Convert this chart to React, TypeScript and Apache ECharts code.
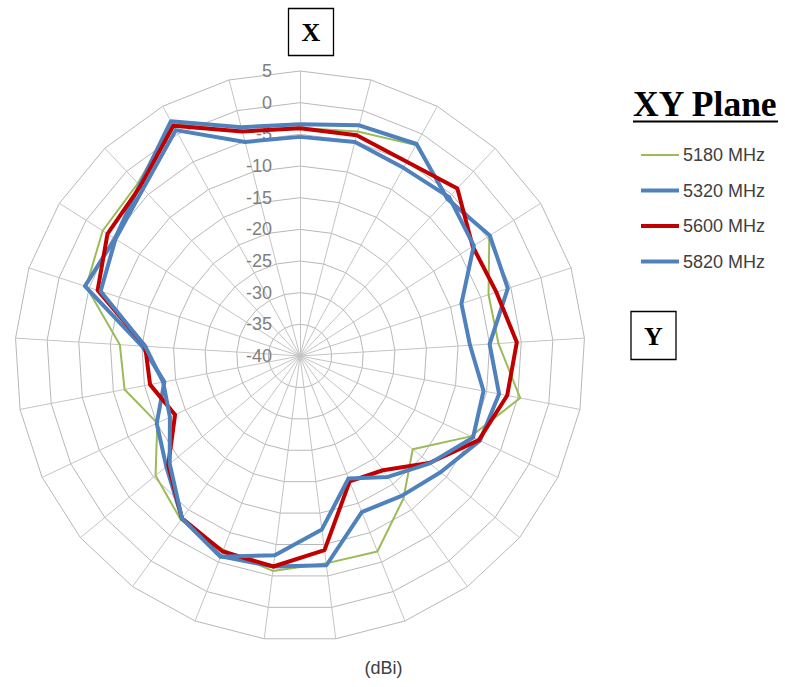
import React, { useEffect, useRef } from 'react';
import * as echarts from 'echarts';

// Excel-style radar categories (degrees), clockwise from the top
const angles = [0, 15, 30, 45, 60, 75, 90, 105, 120, 135, 150, 165, 180, 195, 210, 225, 240, 255, 270, 285, 300, 315, 330, 345, 360];

// Gain values (dBi), one per category
const s5180 = [-4.0, -3.4, -2.0, -5.8, -4.6, -8.7, -8.6, -4.6, -10.2, -16.9, -12.2, -6.8, -7.0, -5.8, -7.1, -8.0, -10.4, -15.1, -11.8, -11.5, -4.5, -3.1, -2.6, 1.8, -3.4];
const s5320 = [-3.4, -2.4, -1.8, -6.0, -4.5, -5.5, -10.0, -8.0, -8.6, -11.2, -12.7, -13.5, -6.7, -6.5, -6.0, -8.3, -12.6, -15.0, -18.2, -15.0, -4.3, -5.4, -3.0, 2.3, -2.7];
const s5600 = [-4.05, -4.0, -5.0, -3.7, -7.7, -7.4, -5.7, -6.7, -8.8, -13.5, -17.7, -18.7, -9.1, -6.5, -6.8, -8.3, -13.0, -18.2, -15.9, -15.5, -6.4, -4.0, -3.2, 1.5, -3.4];
const s5820 = [-5.4, -5.1, -6.1, -5.6, -7.5, -13.2, -13.1, -10.5, -9.8, -13.4, -16.4, -19.2, -12.4, -8.3, -5.9, -8.3, -13.3, -17.3, -18.0, -15.5, -6.9, -5.5, -3.8, 0.7, -5.1];

const seriesNames = ['5180 MHz', '5320 MHz', '5600 MHz', '5820 MHz'];
const seriesValues = [s5180, s5320, s5600, s5820];
const seriesColors = ['#9bbb59', '#4f81bd', '#c00000', '#4f81bd'];
const seriesWidths = [2, 4, 4, 4];

const axisMin = -40;
const axisMax = 5;
const splitCount = 9;

const SANS = "'Liberation Sans', Arial, sans-serif";
const SERIF = "'Liberation Serif', 'Times New Roman', serif";

export default function App() {
  const ref = useRef<HTMLDivElement | null>(null);

  useEffect(() => {
    if (!ref.current) return;
    const chart = echarts.init(ref.current, undefined, { renderer: 'svg' });
    const n = angles.length;
    // ECharts lays indicators out counter-clockwise; reorder so the pattern runs clockwise
    const order = angles.map((_, j) => (n - j) % n);

    const option: any = {
      animation: false,
      backgroundColor: '#ffffff',
      title: {
        text: 'XY Plane',
        left: 633,
        top: 86,
        padding: 0,
        textStyle: { fontFamily: SERIF, fontWeight: 'bold', fontSize: 35.5, color: '#000000' },
      },
      legend: {
        orient: 'vertical',
        left: 641,
        top: 146,
        itemWidth: 38,
        itemHeight: 4,
        itemGap: 17.5,
        padding: 0,
        selectedMode: false,
        textStyle: { fontFamily: SANS, fontSize: 18, color: '#404040', lineHeight: 18, padding: [0, 0, 0, -1] },
        data: seriesNames.map((name, i) => ({
          name,
          icon: seriesWidths[i] < 3 ? 'path://M0,0h19v1h-19z' : 'rect',
          itemStyle: { color: seriesColors[i] },
        })),
      },
      radar: {
        center: [300, 356],
        radius: 285,
        startAngle: 90,
        shape: 'polygon',
        splitNumber: splitCount,
        indicator: order.map((k, j) => {
          const ind: any = { name: '', min: axisMin, max: axisMax };
          if (j === 0) ind.axisLabel = { show: true };
          return ind;
        }),
        axisName: { show: false },
        axisLine: { lineStyle: { color: '#c4c4c4', width: 1 } },
        axisTick: { show: false },
        splitLine: { lineStyle: { color: '#b8b8b8', width: 1 } },
        splitArea: { show: false },
        axisLabel: { show: false, color: '#808080', fontSize: 18, fontFamily: SANS, margin: 28 },
      },
      series: seriesNames.map((name, i) => ({
        type: 'radar',
        name,
        symbol: 'none',
        z: 2 + i,
        lineStyle: { color: seriesColors[i], width: seriesWidths[i] },
        itemStyle: { color: seriesColors[i] },
        data: [
          {
            name,
            value: order.map((k) => seriesValues[i][k]),
            lineStyle: { color: seriesColors[i], width: seriesWidths[i] },
            itemStyle: { color: seriesColors[i] },
          },
        ],
      })),
      graphic: [
        { type: 'line', shape: { x1: 633, y1: 121.5, x2: 778, y2: 121.5 }, style: { stroke: '#000', lineWidth: 2 } },
        { type: 'rect', shape: { x: 288.5, y: 8.5, width: 45, height: 47 }, style: { fill: '#fff', stroke: '#000', lineWidth: 1.3 } },
        { type: 'text', x: 311, y: 32, style: { text: 'X', fontFamily: SERIF, fontWeight: 'bold', fontSize: 26, fill: '#000', textAlign: 'center', textVerticalAlign: 'middle' } },
        { type: 'rect', shape: { x: 631, y: 311.5, width: 45, height: 48 }, style: { fill: '#fff', stroke: '#000', lineWidth: 1.3 } },
        { type: 'text', x: 653.5, y: 336, style: { text: 'Y', fontFamily: SERIF, fontWeight: 'bold', fontSize: 26, fill: '#000', textAlign: 'center', textVerticalAlign: 'middle' } },
        { type: 'text', x: 383.5, y: 668, style: { text: '(dBi)', fontFamily: SANS, fontSize: 18, fill: '#404040', textAlign: 'center', textVerticalAlign: 'middle' } },
      ],
    };
    chart.setOption(option);
    return () => chart.dispose();
  }, []);

  return <div ref={ref} style={{ position: 'fixed', left: 0, top: 0, width: 785, height: 687 }} />;
}
